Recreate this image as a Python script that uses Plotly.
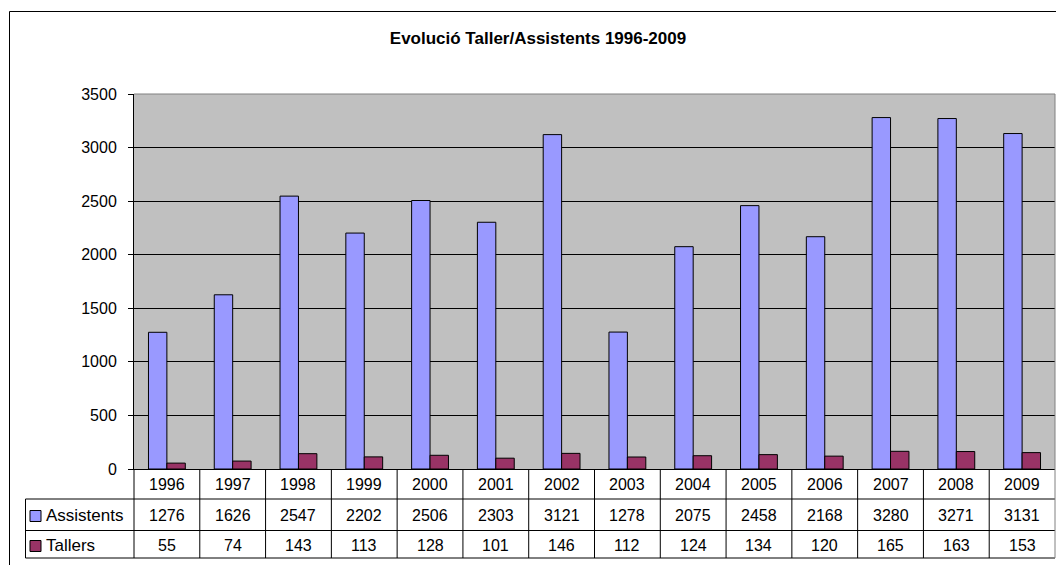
import plotly.graph_objects as go

years = ["1996", "1997", "1998", "1999", "2000", "2001", "2002",
         "2003", "2004", "2005", "2006", "2007", "2008", "2009"]
assistents = [1276, 1626, 2547, 2202, 2506, 2303, 3121, 1278, 2075, 2458, 2168, 3280, 3271, 3131]
tallers = [55, 74, 143, 113, 128, 101, 146, 112, 124, 134, 120, 165, 163, 153]
series_names = ["Assistents", "Tallers"]
colors = ["#9999FF", "#993366"]
title = "Evolució Taller/Assistents 1996-2009"

W, H = 1056, 565
L, R, T, B = 134, 1055, 94, 469
PW, PH = R - L, B - T
FONT = "Arial, Liberation Sans, sans-serif"


def px(x):
    return (x - L) / PW


def py(y):
    return (B - y) / PH


fig = go.Figure()
for name, vals, col in zip(series_names, [assistents, tallers], colors):
    fig.add_trace(go.Bar(x=years, y=vals, name=name, marker=dict(color=col, line=dict(color="black", width=1))))

shapes = []
ann = []
# plot area border (gray top/right)
shapes.append(dict(type="line", xref="paper", yref="paper", x0=0, x1=1, y0=1, y1=1, line=dict(color="#808080", width=1)))
shapes.append(dict(type="line", xref="paper", yref="paper", x0=1, x1=1, y0=0, y1=1, line=dict(color="#808080", width=1)))

# outer chart frame
shapes.append(dict(type="line", xref="paper", yref="paper", x0=px(9.5), x1=px(1060), y0=py(11.5), y1=py(11.5), line=dict(color="black", width=1)))
shapes.append(dict(type="line", xref="paper", yref="paper", x0=px(9.5), x1=px(9.5), y0=py(11.5), y1=py(570), line=dict(color="black", width=1)))

# data table lines
row_lines = [499, 530.5, 558]
for yl in row_lines:
    shapes.append(dict(type="line", xref="paper", yref="paper", x0=px(25.5), x1=1, y0=py(yl), y1=py(yl), line=dict(color="black", width=1)))
shapes.append(dict(type="line", xref="paper", yref="paper", x0=px(25.5), x1=px(25.5), y0=py(499), y1=py(558), line=dict(color="black", width=1)))
shapes.append(dict(type="line", xref="paper", yref="paper", x0=0, x1=0, y0=0, y1=py(558), line=dict(color="black", width=1)))
for i in range(len(years) - 1):
    shapes.append(dict(type="line", xref="x", yref="paper", x0=i + 0.5, x1=i + 0.5, y0=0, y1=py(558), line=dict(color="black", width=1)))
shapes.append(dict(type="line", xref="paper", yref="paper", x0=1, x1=1, y0=0, y1=py(558), line=dict(color="#808080", width=1)))

# table text
row_y = [484, 515, 545]
for i, yr in enumerate(years):
    ann.append(dict(x=i, xref="x", y=py(row_y[0]), yref="paper", text=yr, showarrow=False,
                    xanchor="center", yanchor="middle", font=dict(size=16, color="black", family=FONT)))
for r, vals in enumerate([assistents, tallers]):
    for i, v in enumerate(vals):
        ann.append(dict(x=i, xref="x", y=py(row_y[r + 1]), yref="paper", text=str(v), showarrow=False,
                        xanchor="center", yanchor="middle", font=dict(size=16, color="black", family=FONT)))
    # legend key
    cy = row_y[r + 1] + 1
    shapes.append(dict(type="rect", xref="paper", yref="paper", x0=px(30), x1=px(41), y0=py(cy - 5.5), y1=py(cy + 5.5),
                       fillcolor=colors[r], line=dict(color="black", width=1)))
    ann.append(dict(x=px(44), xref="paper", y=py(row_y[r + 1]), yref="paper", text=series_names[r], xanchor="left",
                    yanchor="middle", showarrow=False, font=dict(size=17, color="black", family=FONT)))

fig.update_layout(
    width=W, height=H,
    margin=dict(l=L, r=W - R, t=T, b=H - B, pad=0),
    paper_bgcolor="white", plot_bgcolor="#C0C0C0",
    barmode="group", bargap=0.44, bargroupgap=0,
    showlegend=False,
    title=dict(text="<b>" + title + "</b>", x=538 / W, y=1 - 38 / H, xanchor="center", yanchor="middle",
               font=dict(size=17, color="black", family=FONT)),
    xaxis=dict(type="category", range=[-0.5, len(years) - 0.5], showticklabels=False, ticks="",
               showgrid=False, showline=True, linecolor="black", linewidth=1, zeroline=False, fixedrange=True),
    yaxis=dict(range=[0, 3500], dtick=500, tick0=0, showgrid=True, gridcolor="black", gridwidth=1,
               showline=True, linecolor="black", linewidth=1, ticks="outside", ticklen=5, tickcolor="black",
               tickfont=dict(size=16, color="black", family=FONT), zeroline=False, ticklabelstandoff=8),
    shapes=shapes, annotations=ann,
    font=dict(family=FONT),
)

fig.write_html("out.html", config={"displayModeBar": False},
               post_script="document.body.style.margin='0px';document.body.style.padding='0px';")
